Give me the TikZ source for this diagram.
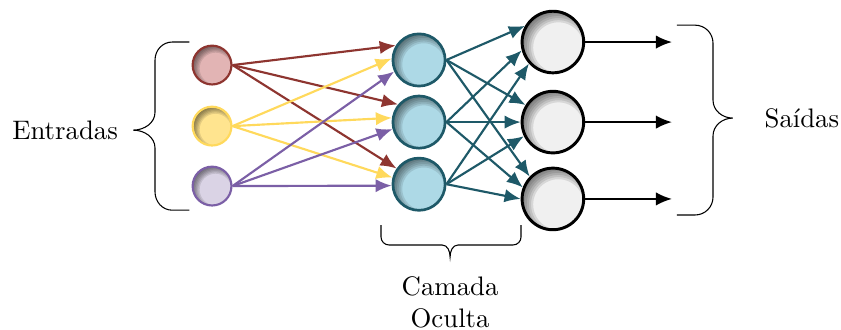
\documentclass[tikz,border=0pt]{standalone}
\usepackage{amsmath}
\usepackage{tikz}
\usetikzlibrary{arrows.meta,shapes}

\definecolor{redfill}{HTML}{E2B4B4}
\definecolor{redline}{HTML}{8E3530}
\definecolor{yellowfill}{HTML}{FFE48F}
\definecolor{yellowline}{HTML}{FFD95C}
\definecolor{purplefill}{HTML}{DAD3E5}
\definecolor{purpleline}{HTML}{7B5FA6}
\definecolor{tealfill}{HTML}{ADD9E6}
\definecolor{tealline}{HTML}{1E5968}
\definecolor{grayfill}{HTML}{F0F0F0}

\tikzset{
  sombra/.style={path picture={
      \foreach \k in {0,...,5}
        \draw[black, opacity=0.1, line width=6pt]
          ([xshift={0.18*#1}, yshift={-0.18*#1}]path picture bounding box.center)
          circle ({#1*(0.82 + 0.07*\k) + 3pt});
  }}
}

\begin{document}
\begin{tikzpicture}[x=1pt, y=1pt,
    entrada/.style={circle, thick, inner sep=0pt, minimum size=14.5pt, sombra=7.25pt},
    oculta/.style={circle, line width=1pt, draw=tealline, fill=tealfill, inner sep=0pt, minimum size=19.5pt, sombra=9.75pt},
    saida/.style={circle, line width=1.1pt, draw=black, fill=grayfill, inner sep=0pt, minimum size=23pt, sombra=11.5pt},
    seta/.style={thick, -{Latex[length=6pt,width=5pt]}}]

  \useasboundingbox (-156.5,-77.3) rectangle (157.6,45.6);

  % camada de entrada
  \node[entrada, draw=redline, fill=redfill] (in1) at (-77.3, 21.3) {};
  \node[entrada, draw=yellowline, fill=yellowfill] (in2) at (-77.3, -1.5) {};
  \node[entrada, draw=purpleline, fill=purplefill] (in3) at (-77.3, -23.9) {};

  % camada oculta
  \node[oculta] (h1) at (0, 23.2) {};
  \node[oculta] (h2) at (0, 0) {};
  \node[oculta] (h3) at (0, -23.2) {};

  % camada de saida
  \node[saida] (out1) at (50, 29.9) {};
  \node[saida] (out2) at (50, 0) {};
  \node[saida] (out3) at (50, -28.7) {};

  \coordinate (y1) at (94.5, 29.9);
  \coordinate (y2) at (94.5, 0);
  \coordinate (y3) at (94.5, -28.7);

  \draw[seta, redline] (in1.east) -- (h1.148);
  \draw[seta, redline] (in1.east) -- (h2.140);
  \draw[seta, redline] (in1.east) -- (h3.145);

  \draw[seta, yellowline] (in2.east) -- (h1.177);
  \draw[seta, yellowline] (in2.east) -- (h2.171);
  \draw[seta, yellowline] (in2.east) -- (h3.166);

  \draw[seta, purpleline] (in3.east) -- (h1.205);
  \draw[seta, purpleline] (in3.east) -- (h2.195);
  \draw[seta, purpleline] (in3.east) -- (h3.183);

  \draw[seta, tealline] (h1.east) -- (out1.150);
  \draw[seta, tealline] (h1.east) -- (out2.148);
  \draw[seta, tealline] (h1.east) -- (out3.136);

  \draw[seta, tealline] (h2.east) -- (out1.195);
  \draw[seta, tealline] (h2.east) -- (out2.180);
  \draw[seta, tealline] (h2.east) -- (out3.159);

  \draw[seta, tealline] (h3.east) -- (out1.222);
  \draw[seta, tealline] (h3.east) -- (out2.206);
  \draw[seta, tealline] (h3.east) -- (out3.180);

  \draw[seta, black] (out1) -- (y1);
  \draw[seta, black] (out2) -- (y2);
  \draw[seta, black] (out3) -- (y3);

  % chaves
  \draw (-85.8, 29.9) -- (-92.2, 29.9) to[out=180, in=90] (-98.6, 23.2) -- (-98.6, 3.7)
    to[out=-90, in=0] (-106.8, -3.0) to[out=0, in=90] (-98.6, -9.7) -- (-98.6, -26.1)
    to[out=-90, in=180] (-92.2, -32.9) -- (-85.8, -32.9);
  \node (entradas) at (-132.2, -3.0) {Entradas};

  \draw (-14.2, -38.5) -- (-14.2, -42.9) to[out=-90, in=180] (-11.2, -45.9) -- (8.6, -45.9)
    to[out=0, in=90] (11.6, -50.4) to[out=90, in=180] (14.6, -45.9) -- (35.1, -45.9)
    to[out=0, in=-90] (38.1, -42.9) -- (38.1, -38.5);
  \node[align=center] (oculta) at (11.6, -67.2) {Camada\\Oculta};

  \draw (96.3, 36.2) -- (103.1, 36.2) to[out=0, in=90] (109.8, 29.5) -- (109.8, 8.2)
    to[out=-90, in=180] (117.2, 1.5) to[out=180, in=90] (109.8, -5.2) -- (109.8, -28.0)
    to[out=-90, in=0] (103.1, -34.7) -- (96.3, -34.7);
  \node (saidas) at (143, 1.5) {Saídas};

\end{tikzpicture}
\end{document}
